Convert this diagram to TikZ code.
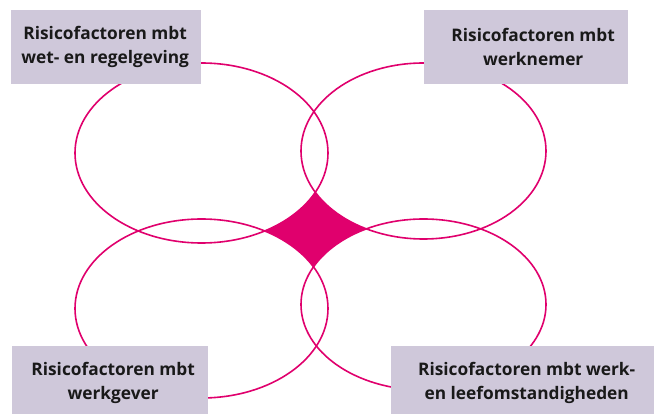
\documentclass[tikz,border=0pt]{standalone}
\usepackage{fontspec}
\setmainfont{Open Sans}
\definecolor{risicoroze}{HTML}{E0006D}
\definecolor{risicolila}{HTML}{CFC8DA}
\tikzset{
  kader/.style={fill=risicolila, inner sep=0pt, anchor=north west},
  kadertekst/.style={align=center, inner sep=0pt, font=\bfseries\fontsize{17.3}{24}\selectfont, text=black!90},
  ovaal/.style={draw=risicoroze, line width=1.6pt},
}
\begin{document}
\begin{tikzpicture}[x=1pt,y=-1pt]
        \useasboundingbox (0,0) rectangle (654,414);

        %MIDDEN
        \fill[risicoroze] (260,233) -- (316,185) -- (374,228) -- (314,276) -- cycle;
        \fill[white] (201.5,153) ellipse [x radius=126.5pt, y radius=90pt];
        \fill[white] (423.5,151) ellipse [x radius=122.5pt, y radius=88pt];
        \fill[white] (201.5,308.5) ellipse [x radius=126.5pt, y radius=89.5pt];
        \fill[white] (423.5,304.5) ellipse [x radius=122.5pt, y radius=85.5pt];

        %OVALEN
        \draw[ovaal] (201.5,153) ellipse [x radius=126.5pt, y radius=90pt];
        \draw[ovaal] (423.5,151) ellipse [x radius=122.5pt, y radius=88pt];
        \draw[ovaal] (201.5,308.5) ellipse [x radius=126.5pt, y radius=89.5pt];
        \draw[ovaal] (423.5,304.5) ellipse [x radius=122.5pt, y radius=85.5pt];

        %KADERS
        \node[kader, minimum width=190pt, minimum height=74pt] (wetkader) at (11,10) {};
        \node[kader, minimum width=204pt, minimum height=74pt] (nemerkader) at (424,10) {};
        \node[kader, minimum width=196pt, minimum height=68pt] (geverkader) at (12,346) {};
        \node[kader, minimum width=263pt, minimum height=68pt] (leefkader) at (391,346) {};

        \node[kadertekst] (wet) at ([xshift=-1pt]wetkader.center) {Risicofactoren mbt\\wet- en regelgeving};
        \node[kadertekst] (nemer) at ([xshift=7pt]nemerkader.center) {Risicofactoren mbt\\werknemer};
        \node[kadertekst] (gever) at ([xshift=3pt,yshift=-3pt]geverkader.center) {Risicofactoren mbt\\werkgever};
        \node[kadertekst] (leef) at ([xshift=4pt,yshift=-3pt]leefkader.center) {Risicofactoren mbt werk-\\en leefomstandigheden};
\end{tikzpicture}
\end{document}
